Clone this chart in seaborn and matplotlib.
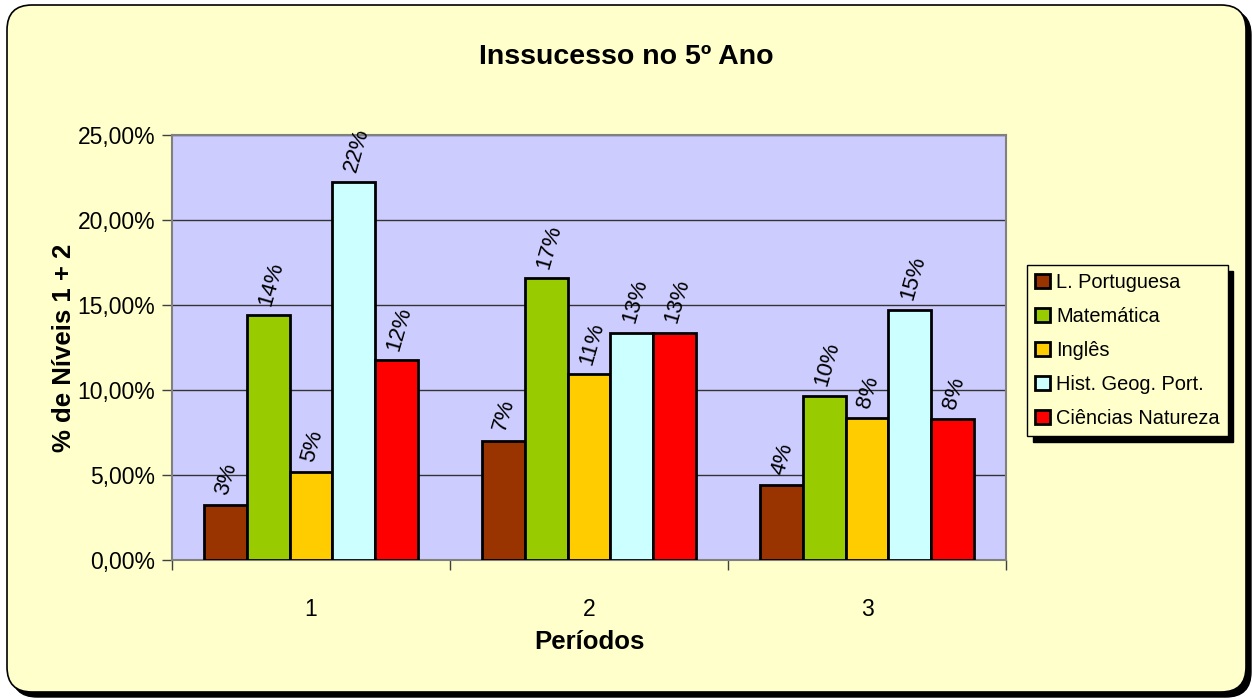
import pandas as pd
import matplotlib.pyplot as plt
import seaborn as sns
from matplotlib.patches import FancyBboxPatch
from matplotlib.ticker import FuncFormatter

# Dados (% de níveis 1 + 2 por período)
periodos = ['1', '2', '3']
disciplinas = ['L. Portuguesa', 'Matemática', 'Inglês', 'Hist. Geog. Port.', 'Ciências Natureza']
l_portuguesa = [0.0326, 0.0699, 0.0444]
matematica = [0.1440, 0.1656, 0.0964]
ingles = [0.0520, 0.1092, 0.0837]
hist_geog = [0.2225, 0.1335, 0.1471]
ciencias = [0.1174, 0.1335, 0.0831]
cores = ['#993300', '#99CC00', '#FFCC00', '#CCFFFF', '#FF0000']

valores = [l_portuguesa, matematica, ingles, hist_geog, ciencias]
df = pd.DataFrame([(p, d, v[i]) for d, v in zip(disciplinas, valores) for i, p in enumerate(periodos)],
                  columns=['Período', 'Disciplina', 'Valor'])

sns.set_style('white')
plt.rcParams['font.family'] = ['Liberation Sans', 'DejaVu Sans']
plt.rcParams['text.color'] = 'black'
plt.rcParams['axes.labelcolor'] = 'black'
plt.rcParams['xtick.color'] = 'black'
plt.rcParams['ytick.color'] = 'black'

fig = plt.figure(figsize=(12.52, 6.99), dpi=100)
fig.patch.set_facecolor('white')

# Caixa exterior arredondada com sombra
sombra = FancyBboxPatch((0.12, 0.02), 12.39, 6.87, boxstyle='round,pad=0,rounding_size=0.25',
                        transform=fig.dpi_scale_trans, facecolor='black', edgecolor='black', zorder=-2)
caixa = FancyBboxPatch((0.07, 0.07), 12.39, 6.87, boxstyle='round,pad=0,rounding_size=0.25',
                       transform=fig.dpi_scale_trans, facecolor='#FFFFCC', edgecolor='black',
                       linewidth=1.2, zorder=-1)
fig.patches.extend([sombra, caixa])

ax = fig.add_axes([172 / 1252, 1 - 560 / 699, 834 / 1252, 425 / 699])
ax.set_zorder(1)
ax.set_facecolor('#CCCCFF')

sns.barplot(data=df, x='Período', y='Valor', hue='Disciplina', palette=cores, saturation=1,
            width=0.77, edgecolor='black', linewidth=2, ax=ax, zorder=3)

ax.set_ylim(0, 0.25)
ax.set_yticks([0, 0.05, 0.10, 0.15, 0.20, 0.25])
ax.yaxis.set_major_formatter(FuncFormatter(lambda v, pos: f'{v * 100:.2f}%'.replace('.', ',')))
ax.grid(axis='y', color='#333333', linewidth=1, zorder=1)
ax.set_axisbelow(True)
for s in ax.spines.values():
    s.set_color('#808080')
    s.set_linewidth(1.5)

ax.tick_params(axis='y', length=7, width=1, color='#404040', direction='out', labelsize=16.5, left=True, pad=5)
ax.tick_params(axis='x', length=0, labelsize=16.5, pad=27)
ax.set_xticks([-0.5, 0.5, 1.5, 2.5], minor=True)
ax.tick_params(axis='x', which='minor', length=7, width=1, color='#404040', direction='out', bottom=True)

# Rótulos das barras
for cont in ax.containers:
    for bar in cont:
        h = bar.get_height()
        ax.text(bar.get_x() + bar.get_width() / 2 - 0.012, h + 0.006, f'{h:.0%}',
                rotation=74, rotation_mode='anchor', ha='left', va='center', fontsize=16, zorder=4)

ax.set_xlabel('Períodos', fontsize=18.5, fontweight='bold')
ax.xaxis.set_label_coords(0.5, -0.165)
ax.set_ylabel('% de Níveis 1 + 2', fontsize=18.5, fontweight='bold')
ax.yaxis.set_label_coords(-0.13, 0.5)
ax.yaxis.label.set_va('center')

fig.text(0.5, 1 - 57 / 699, 'Inssucesso no 5º Ano', ha='center', va='center', fontsize=20.5, fontweight='bold')

handles, labels = ax.get_legend_handles_labels()
ax.legend(handles, labels, loc='upper left', bbox_to_anchor=(1027 / 1252, 1 - 265 / 699),
          bbox_transform=fig.transFigure, frameon=True, fancybox=False, fontsize=14.4,
          edgecolor='black', facecolor='#FFFFCC', framealpha=1, borderpad=0.4,
          labelspacing=0.75, handlelength=0.75, handleheight=0.75, handletextpad=0.3,
          borderaxespad=0, shadow={'color': 'black', 'alpha': 1, 'ox': 4, 'oy': -4})

fig.savefig('out.png', dpi=100)
